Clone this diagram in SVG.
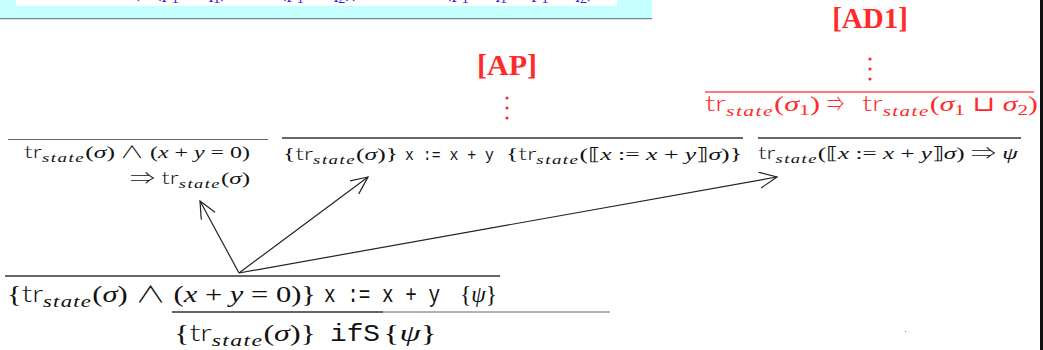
<svg xmlns="http://www.w3.org/2000/svg" width="1043" height="350" viewBox="0 0 1043 350">
<style>
text{font-family:"Liberation Serif","DejaVu Serif",serif;fill:#111}
.sf{font-family:"Lato","Liberation Sans",sans-serif;font-style:normal;font-weight:300}
.op{font-family:"Noto Sans CJK JP","DejaVu Sans",sans-serif;font-weight:300;font-style:normal}
.op2{font-family:"DejaVu Sans",sans-serif;font-style:normal}
.i{font-style:italic}
.s{font-style:italic;letter-spacing:1px}
.tt{font-family:"Liberation Mono","DejaVu Sans Mono",monospace}
.red text,.red{fill:#ff2a2a}
.bar{stroke:#333;stroke-width:1.6}
.bar-thin{stroke:#666;stroke-width:1}
.conn{stroke:#222;stroke-width:1.2;fill:none}
.lbl{font-weight:bold;fill:#ff2a2a}
.blue{fill:#2424e6}
</style>
<defs>
<marker id="ah" markerUnits="userSpaceOnUse" markerWidth="22" markerHeight="20" refX="17.5" refY="8" orient="auto">
<path d="M0,0 L17.5,8 L0,16" fill="none" stroke="#222" stroke-width="1.2"/>
</marker>
<clipPath id="topclip"><rect x="16" y="0" width="601" height="6"/></clipPath>
</defs>
<rect x="0" y="0" width="1043" height="350" fill="#fff"/>
<g id="header">
<rect x="0" y="0" width="652" height="18" fill="#c6ffff"/>
<rect x="16" y="0" width="601" height="6" fill="#fff"/>
<line x1="0" y1="18.6" x2="652" y2="18.6" stroke="#6e8c8c" stroke-width="1.4"/>
<g clip-path="url(#topclip)">
<text class="blue" y="-3" font-size="20"><tspan x="122" class="blue">¬(</tspan><tspan x="155" class="blue">(p</tspan><tspan class="blue" font-size="14" dy="6">1</tspan><tspan class="blue" dy="-6"> ∨ q</tspan><tspan class="blue" font-size="14" dy="6">1</tspan><tspan class="blue" dy="-6">)</tspan><tspan x="280" class="blue">(p</tspan><tspan class="blue" font-size="14" dy="6">1</tspan><tspan class="blue" dy="-6"> ∨ q</tspan><tspan class="blue" font-size="14" dy="6">2</tspan><tspan class="blue" dy="-6">))</tspan><tspan x="445" class="blue">(p</tspan><tspan class="blue" font-size="14" dy="6">1</tspan><tspan class="blue" dy="-6"> + q</tspan><tspan class="blue" font-size="14" dy="6">1</tspan><tspan class="blue" dy="-6"> ∨ p</tspan><tspan class="blue" font-size="14" dy="6">1</tspan><tspan class="blue" dy="-6"> + q</tspan><tspan class="blue" font-size="14" dy="6">2</tspan><tspan class="blue" dy="-6">)</tspan></text>
</g>
</g>
<rect x="1040" y="0" width="3" height="350" fill="#111"/>
<rect x="905" y="331" width="1" height="1" fill="#777"/>

<g id="n_left">
<line class="bar-thin" x1="8" y1="139.5" x2="268" y2="139.5"/>
<text x="24" y="158" font-size="17" textLength="91" lengthAdjust="spacingAndGlyphs"><tspan class="sf">tr</tspan><tspan class="s" font-size="12.5" dy="4">state</tspan><tspan dy="-4">(</tspan><tspan class="i">σ</tspan>)</text>
<text x="120" y="158" font-size="17" textLength="130" lengthAdjust="spacingAndGlyphs"><tspan class="op">∧</tspan> (<tspan class="i">x</tspan> + <tspan class="i">y</tspan> = 0)</text>
<text x="130" y="184" font-size="17" textLength="120" lengthAdjust="spacingAndGlyphs"><tspan class="op">⇒</tspan> <tspan class="sf">tr</tspan><tspan class="s" font-size="12.5" dy="4">state</tspan><tspan dy="-4">(</tspan><tspan class="i">σ</tspan>)</text>
</g>

<g id="n_ap">
<text class="lbl" x="507" y="75" font-size="30" text-anchor="middle">[AP]</text>
<circle class="red" cx="507" cy="98" r="1.6"/>
<circle class="red" cx="507" cy="108" r="1.6"/>
<circle class="red" cx="507" cy="118" r="1.6"/>
<line class="bar" x1="282" y1="138" x2="743" y2="138"/>
<text x="283" y="160" font-size="17" textLength="115" lengthAdjust="spacingAndGlyphs">{<tspan class="sf">tr</tspan><tspan class="s" font-size="12.5" dy="4">state</tspan><tspan dy="-4">(</tspan><tspan class="i">σ</tspan>)}</text>
<text class="tt" x="405" y="160" font-size="17" textLength="89" lengthAdjust="spacingAndGlyphs">x := x + y</text>
<text x="506" y="160" font-size="17" textLength="236" lengthAdjust="spacingAndGlyphs">{<tspan class="sf">tr</tspan><tspan class="s" font-size="12.5" dy="4">state</tspan><tspan dy="-4">(⟦</tspan><tspan class="i">x</tspan> := <tspan class="i">x</tspan> + <tspan class="i">y</tspan>⟧<tspan class="i">σ</tspan>)}</text>
</g>

<g id="n_ad1">
<text class="lbl" x="870" y="28" font-size="29" text-anchor="middle">[AD1]</text>
<circle class="red" cx="870" cy="59" r="1.6"/>
<circle class="red" cx="870" cy="69" r="1.6"/>
<circle class="red" cx="870" cy="79" r="1.6"/>
<line x1="705" y1="92" x2="1034" y2="92" stroke="#ff4a4a" stroke-width="1.6"/>
<g class="red">
<text x="705" y="111" font-size="21" textLength="115" lengthAdjust="spacingAndGlyphs"><tspan class="sf">tr</tspan><tspan class="s" font-size="15" dy="5">state</tspan><tspan dy="-5">(</tspan><tspan class="i">σ</tspan><tspan font-size="15" dy="4">1</tspan><tspan dy="-4">)</tspan></text>
<text x="827" y="111" font-size="21" textLength="17" lengthAdjust="spacingAndGlyphs"><tspan class="op">⇒</tspan></text>
<text x="862" y="111" font-size="21" textLength="176" lengthAdjust="spacingAndGlyphs"><tspan class="sf">tr</tspan><tspan class="s" font-size="15" dy="5">state</tspan><tspan dy="-5">(</tspan><tspan class="i">σ</tspan><tspan font-size="15" dy="4">1</tspan><tspan dy="-4"> </tspan><tspan class="op2">⊔</tspan> <tspan class="i">σ</tspan><tspan font-size="15" dy="4">2</tspan><tspan dy="-4">)</tspan></text>
</g>
<line class="bar" x1="758" y1="138" x2="1021" y2="138"/>
<text x="758" y="159" font-size="17" textLength="260" lengthAdjust="spacingAndGlyphs"><tspan class="sf">tr</tspan><tspan class="s" font-size="12.5" dy="4">state</tspan><tspan dy="-4">(⟦</tspan><tspan class="i">x</tspan> := <tspan class="i">x</tspan> + <tspan class="i">y</tspan>⟧<tspan class="i">σ</tspan>) <tspan class="op">⇒</tspan> <tspan class="i">ψ</tspan></text>
</g>

<g id="n_bottom">
<line class="bar" x1="5" y1="276" x2="500" y2="276"/>
<text x="7" y="302" font-size="23" textLength="309" lengthAdjust="spacingAndGlyphs">{<tspan class="sf">tr</tspan><tspan class="s" font-size="17" dy="5">state</tspan><tspan dy="-5">(</tspan><tspan class="i">σ</tspan>) <tspan class="op">∧</tspan> (<tspan class="i">x</tspan> + <tspan class="i">y</tspan> = 0)}</text>
<text class="tt" x="324" y="302" font-size="23" textLength="116" lengthAdjust="spacingAndGlyphs">x := x + y</text>
<text x="460" y="302" font-size="23" textLength="37" lengthAdjust="spacingAndGlyphs">{<tspan class="i">ψ</tspan>}</text>
<line class="bar" x1="172" y1="312" x2="383" y2="312"/>
<line class="bar-thin" x1="383" y1="312" x2="610" y2="312"/>
<text x="174" y="341" font-size="23" textLength="142" lengthAdjust="spacingAndGlyphs">{<tspan class="sf">tr</tspan><tspan class="s" font-size="17" dy="5">state</tspan><tspan dy="-5">(</tspan><tspan class="i">σ</tspan>)}</text>
<text class="tt" x="330" y="341" font-size="23" textLength="50" lengthAdjust="spacingAndGlyphs">ifS</text>
<text x="383" y="341" font-size="23" textLength="54" lengthAdjust="spacingAndGlyphs">{<tspan class="i">ψ</tspan>}</text>
</g>

<g id="connectors">
<line class="conn" x1="239" y1="273" x2="200" y2="201" marker-end="url(#ah)"/>
<line class="conn" x1="239" y1="273" x2="368" y2="177" marker-end="url(#ah)"/>
<line class="conn" x1="239" y1="273" x2="777" y2="177" marker-end="url(#ah)"/>
</g>
</svg>
